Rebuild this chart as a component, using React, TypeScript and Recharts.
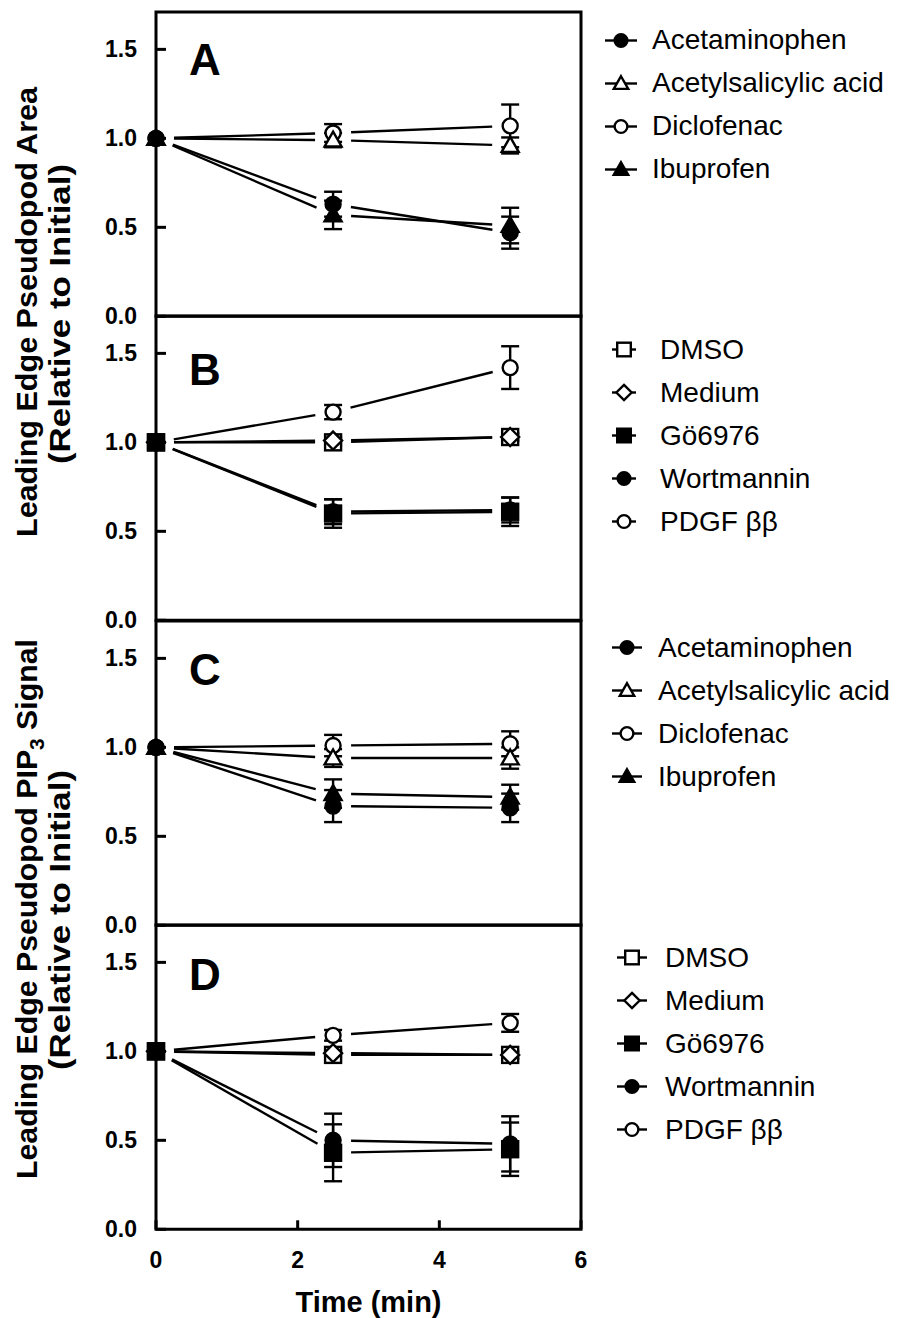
import React from "react";
import {
  LineChart,
  Line,
  XAxis,
  YAxis,
  ErrorBar,
  ReferenceArea,
  Legend,
} from "recharts";

const TIMES = [0, 2.5, 5];
const X_TICKS = [0, 2, 4, 6];
const Y_TICKS = [0, 0.5, 1.0, 1.5];
const Y_MAX = 1.71;

// A: leading edge pseudopod area, NSAIDs
const A_ACETAMINOPHEN = [1.0, 0.63, 0.47];
const A_ACETAMINOPHEN_SEM = [null, 0.07, 0.09];
const A_ASPIRIN = [1.0, 0.99, 0.96];
const A_ASPIRIN_SEM = [null, 0.04, 0.045];
const A_DICLOFENAC = [1.0, 1.03, 1.07];
const A_DICLOFENAC_SEM = [null, 0.05, 0.12];
const A_IBUPROFEN = [1.0, 0.57, 0.51];
const A_IBUPROFEN_SEM = [null, 0.08, 0.1];

// B: leading edge pseudopod area, controls
const B_DMSO = [1.0, 1.0, 1.03];
const B_DMSO_SEM = [null, 0.02, 0.02];
const B_MEDIUM = [1.0, 1.01, 1.03];
const B_MEDIUM_SEM = [null, 0.02, 0.02];
const B_GO6976 = [1.0, 0.6, 0.61];
const B_GO6976_SEM = [null, 0.08, 0.08];
const B_WORTMANNIN = [1.0, 0.61, 0.62];
const B_WORTMANNIN_SEM = [null, 0.07, 0.07];
const B_PDGF = [1.0, 1.17, 1.42];
const B_PDGF_SEM = [null, 0.04, 0.12];

// C: PIP3 signal, NSAIDs
const C_ACETAMINOPHEN = [1.0, 0.67, 0.66];
const C_ACETAMINOPHEN_SEM = [null, 0.09, 0.08];
const C_ASPIRIN = [1.0, 0.94, 0.94];
const C_ASPIRIN_SEM = [null, 0.05, 0.06];
const C_DICLOFENAC = [1.0, 1.01, 1.02];
const C_DICLOFENAC_SEM = [null, 0.06, 0.07];
const C_IBUPROFEN = [1.0, 0.74, 0.72];
const C_IBUPROFEN_SEM = [null, 0.08, 0.07];

// D: PIP3 signal, controls
const D_DMSO = [1.0, 0.98, 0.98];
const D_DMSO_SEM = [null, 0.02, 0.02];
const D_MEDIUM = [1.0, 0.99, 0.98];
const D_MEDIUM_SEM = [null, 0.02, 0.02];
const D_GO6976 = [1.0, 0.43, 0.45];
const D_GO6976_SEM = [null, 0.16, 0.15];
const D_WORTMANNIN = [1.0, 0.5, 0.48];
const D_WORTMANNIN_SEM = [null, 0.15, 0.155];
const D_PDGF = [1.0, 1.09, 1.16];
const D_PDGF_SEM = [null, 0.03, 0.05];

type Shape = "circle" | "triangle" | "square" | "diamond";
type Series = {
  key: string;
  name: string;
  shape: Shape;
  filled: boolean;
  z: number;
  values: number[];
  sem: (number | null)[];
};

const nsaids = (p: string, v: any): Series[] => [
  { key: p + "acet", name: "Acetaminophen", shape: "circle", filled: true, z: 4, values: v[0], sem: v[1] },
  { key: p + "asa", name: "Acetylsalicylic acid", shape: "triangle", filled: false, z: 2, values: v[2], sem: v[3] },
  { key: p + "diclo", name: "Diclofenac", shape: "circle", filled: false, z: 1, values: v[4], sem: v[5] },
  { key: p + "ibu", name: "Ibuprofen", shape: "triangle", filled: true, z: 3, values: v[6], sem: v[7] },
];

const controls = (p: string, v: any): Series[] => [
  { key: p + "dmso", name: "DMSO", shape: "square", filled: false, z: 2, values: v[0], sem: v[1] },
  { key: p + "med", name: "Medium", shape: "diamond", filled: false, z: 3, values: v[2], sem: v[3] },
  { key: p + "go", name: "Gö6976", shape: "square", filled: true, z: 5, values: v[4], sem: v[5] },
  { key: p + "wort", name: "Wortmannin", shape: "circle", filled: true, z: 4, values: v[6], sem: v[7] },
  { key: p + "pdgf", name: "PDGF ββ", shape: "circle", filled: false, z: 1, values: v[8], sem: v[9] },
];

const SERIES_A = nsaids("a_", [A_ACETAMINOPHEN, A_ACETAMINOPHEN_SEM, A_ASPIRIN, A_ASPIRIN_SEM, A_DICLOFENAC, A_DICLOFENAC_SEM, A_IBUPROFEN, A_IBUPROFEN_SEM]);
const SERIES_B = controls("b_", [B_DMSO, B_DMSO_SEM, B_MEDIUM, B_MEDIUM_SEM, B_GO6976, B_GO6976_SEM, B_WORTMANNIN, B_WORTMANNIN_SEM, B_PDGF, B_PDGF_SEM]);
const SERIES_C = nsaids("c_", [C_ACETAMINOPHEN, C_ACETAMINOPHEN_SEM, C_ASPIRIN, C_ASPIRIN_SEM, C_DICLOFENAC, C_DICLOFENAC_SEM, C_IBUPROFEN, C_IBUPROFEN_SEM]);
const SERIES_D = controls("d_", [D_DMSO, D_DMSO_SEM, D_MEDIUM, D_MEDIUM_SEM, D_GO6976, D_GO6976_SEM, D_WORTMANNIN, D_WORTMANNIN_SEM, D_PDGF, D_PDGF_SEM]);

const toRows = (series: Series[]) =>
  TIMES.map((t, i) => {
    const row: any = { t };
    series.forEach((s) => {
      row[s.key] = s.values[i];
      row[s.key + "_sem"] = s.sem[i];
    });
    return row;
  });

const FONT = "'Liberation Sans', Arial, Helvetica, sans-serif";
const PLOT_LEFT = 156;
const PLOT_RIGHT = 581;
const PANEL_TOP = 12;
const PANEL_H = 304.3;
const ROW = 43;
const SW = 2.4;
const GAP = 18;

const Marker = ({ cx, cy, shape, filled, scale = 1 }: any) => {
  const fill = filled ? "#000" : "#fff";
  const common = { fill, stroke: "#000", strokeWidth: SW };
  if (shape === "circle") return <circle cx={cx} cy={cy} r={7.5 * scale} {...common} />;
  if (shape === "square") {
    const h = 8 * scale;
    return <rect x={cx - h} y={cy - h} width={2 * h} height={2 * h} {...common} />;
  }
  if (shape === "triangle") {
    const h = 8.5 * scale;
    return (
      <polygon
        points={`${cx},${cy - h} ${cx + h},${cy + h * 0.75} ${cx - h},${cy + h * 0.75}`}
        {...common}
      />
    );
  }
  const d = 9 * scale;
  return (
    <polygon
      points={`${cx},${cy - d} ${cx + d},${cy} ${cx},${cy + d} ${cx - d},${cy}`}
      {...common}
    />
  );
};

// connecting segments that stop short of each symbol (Prism style)
const renderSegments = (p: any) => {
  if (p.index !== 0 || !p.points) return <g key={`s${p.index}`} />;
  const pts = p.points;
  const segs = [];
  for (let i = 0; i < pts.length - 1; i++) {
    const a = pts[i];
    const b = pts[i + 1];
    const dx = b.x - a.x;
    const dy = b.y - a.y;
    const len = Math.hypot(dx, dy);
    if (len <= 2 * GAP) continue;
    const ux = dx / len;
    const uy = dy / len;
    segs.push(
      <line
        key={i}
        x1={a.x + ux * GAP}
        y1={a.y + uy * GAP}
        x2={b.x - ux * GAP}
        y2={b.y - uy * GAP}
        stroke="#000"
        strokeWidth={SW}
      />
    );
  }
  return <g key="s0">{segs}</g>;
};

const YTick = ({ x, y, payload }: any) => (
  <g>
    <line x1={x} x2={x + 10} y1={y} y2={y} stroke="#000" strokeWidth={3} />
    <text x={x - 19} y={y + 8} textAnchor="end" fontFamily={FONT} fontWeight="bold" fontSize={23} fill="#000">
      {Number(payload.value).toFixed(1)}
    </text>
  </g>
);

const XTick = ({ x, y, payload }: any) => (
  <g>
    <line x1={x} x2={x} y1={y} y2={y - 9} stroke="#000" strokeWidth={3} />
    <text x={x} y={y + 39} textAnchor="middle" fontFamily={FONT} fontWeight="bold" fontSize={23} fill="#000">
      {payload.value}
    </text>
  </g>
);

type LegendPos = { firstRow: number; iconLeft: number; iconW: number; textLeft: number };

const LegendBox = ({ series, pos }: { series: Series[]; pos: LegendPos }) => (
  <div style={{ fontFamily: FONT, fontSize: 28, color: "#000" }}>
    {series.map((s) => (
      <div key={s.key} style={{ display: "flex", alignItems: "center", height: ROW }}>
        <svg width={pos.iconW} height={ROW} style={{ flex: "none" }}>
          <line x1={0} x2={pos.iconW} y1={ROW / 2} y2={ROW / 2} stroke="#000" strokeWidth={SW} />
          <Marker cx={pos.iconW / 2} cy={ROW / 2} shape={s.shape} filled={s.filled} scale={0.85} />
        </svg>
        <span style={{ marginLeft: pos.textLeft - pos.iconLeft - pos.iconW, whiteSpace: "nowrap", lineHeight: 1 }}>
          {s.name}
        </span>
      </div>
    ))}
  </div>
);

const Panel = ({
  index,
  letter,
  letterDy,
  series,
  legend,
}: {
  index: number;
  letter: string;
  letterDy: number;
  series: Series[];
  legend: LegendPos;
}) => {
  const top = PANEL_TOP + index * PANEL_H;
  const last = index === 3;
  const mTop = 14;
  const axisH = last ? 100 : 0;
  const mBottom = last ? 0 : 16;
  const chartTop = top - mTop;
  const height = mTop + PANEL_H + mBottom + axisH;
  const data = toRows(series);
  const drawOrder = [...series].sort((a, b) => a.z - b.z);

  return (
    <div style={{ position: "absolute", left: 0, top: chartTop }}>
      <LineChart
        width={897}
        height={height}
        data={data}
        margin={{ top: mTop, right: 897 - PLOT_RIGHT, bottom: mBottom, left: 0 }}
      >
        <XAxis
          dataKey="t"
          type="number"
          domain={[0, 6]}
          ticks={X_TICKS}
          interval={0}
          hide={!last}
          height={axisH}
          axisLine={false}
          tickSize={0}
          tickMargin={0}
          tick={XTick}
          label={
            last
              ? (p: any) => (
                  <text
                    x={p.viewBox.x + p.viewBox.width / 2}
                    y={p.viewBox.y + 83}
                    textAnchor="middle"
                    fontFamily={FONT}
                    fontWeight="bold"
                    fontSize={29}
                    fill="#000"
                  >
                    Time (min)
                  </text>
                )
              : undefined
          }
        />
        <YAxis
          type="number"
          domain={[0, Y_MAX]}
          ticks={Y_TICKS}
          interval={0}
          width={PLOT_LEFT}
          axisLine={false}
          tickSize={0}
          tickMargin={0}
          tick={YTick}
        />
        {drawOrder.map((s) => (
          <Line
            key={s.key + "-line"}
            dataKey={s.key}
            type="linear"
            stroke="none"
            dot={renderSegments}
            activeDot={false}
            legendType="none"
            isAnimationActive={false}
          />
        ))}
        {drawOrder.map((s) => (
          <Line
            key={s.key + "-mark"}
            dataKey={s.key}
            name={s.name}
            type="linear"
            stroke="none"
            activeDot={false}
            isAnimationActive={false}
            dot={(p: any) => (
              <Marker key={`${s.key}-${p.index}`} cx={p.cx} cy={p.cy} shape={s.shape} filled={s.filled} />
            )}
          >
            <ErrorBar dataKey={s.key + "_sem"} width={9} strokeWidth={SW} stroke="#000" direction="y" />
          </Line>
        ))}
        <ReferenceArea
          x1={0}
          x2={6}
          y1={0}
          y2={Y_MAX}
          fill="none"
          stroke="#000"
          strokeWidth={3}
          ifOverflow="visible"
          label={(p: any) => (
            <text
              x={p.viewBox.x + 49}
              y={p.viewBox.y + letterDy}
              textAnchor="middle"
              fontFamily={FONT}
              fontWeight="bold"
              fontSize={44}
              fill="#000"
            >
              {letter}
            </text>
          )}
        />
        <Legend
          layout="vertical"
          align="center"
          verticalAlign="middle"
          wrapperStyle={{ left: legend.iconLeft, top: legend.firstRow - ROW / 2 - chartTop, width: 300 }}
          content={() => <LegendBox series={series} pos={legend} />}
        />
      </LineChart>
    </div>
  );
};

const AxisTitles = () => (
  <svg width={110} height={1318} style={{ position: "absolute", left: 0, top: 0 }}>
    <g fontFamily={FONT} fontWeight="bold" fontSize={29} fill="#000" textAnchor="middle">
      <text x={37} y={312} transform="rotate(-90 37 312)" textLength={450} lengthAdjust="spacingAndGlyphs">
        Leading Edge Pseudopod Area
      </text>
      <text x={70} y={314} transform="rotate(-90 70 314)" textLength={300} lengthAdjust="spacingAndGlyphs">
        (Relative to Initial)
      </text>
      <text x={37} y={909} transform="rotate(-90 37 909)" textLength={540} lengthAdjust="spacingAndGlyphs">
        <tspan>Leading Edge Pseudopod PIP</tspan>
        <tspan fontSize={20} dy={7}>3</tspan>
        <tspan dy={-7}> Signal</tspan>
      </text>
      <text x={70} y={920} transform="rotate(-90 70 920)" textLength={300} lengthAdjust="spacingAndGlyphs">
        (Relative to Initial)
      </text>
    </g>
  </svg>
);

export default function App() {
  return (
    <div style={{ position: "absolute", left: 0, top: 0, width: 897, height: 1318, background: "#fff" }}>
      <AxisTitles />
      <Panel index={0} letter="A" letterDy={63} series={SERIES_A} legend={{ firstRow: 40, iconLeft: 605, iconW: 32, textLeft: 652 }} />
      <Panel index={1} letter="B" letterDy={69} series={SERIES_B} legend={{ firstRow: 350, iconLeft: 612, iconW: 24, textLeft: 660 }} />
      <Panel index={2} letter="C" letterDy={64} series={SERIES_C} legend={{ firstRow: 648, iconLeft: 612, iconW: 30, textLeft: 658 }} />
      <Panel index={3} letter="D" letterDy={65} series={SERIES_D} legend={{ firstRow: 958, iconLeft: 617, iconW: 30, textLeft: 665 }} />
    </div>
  );
}
